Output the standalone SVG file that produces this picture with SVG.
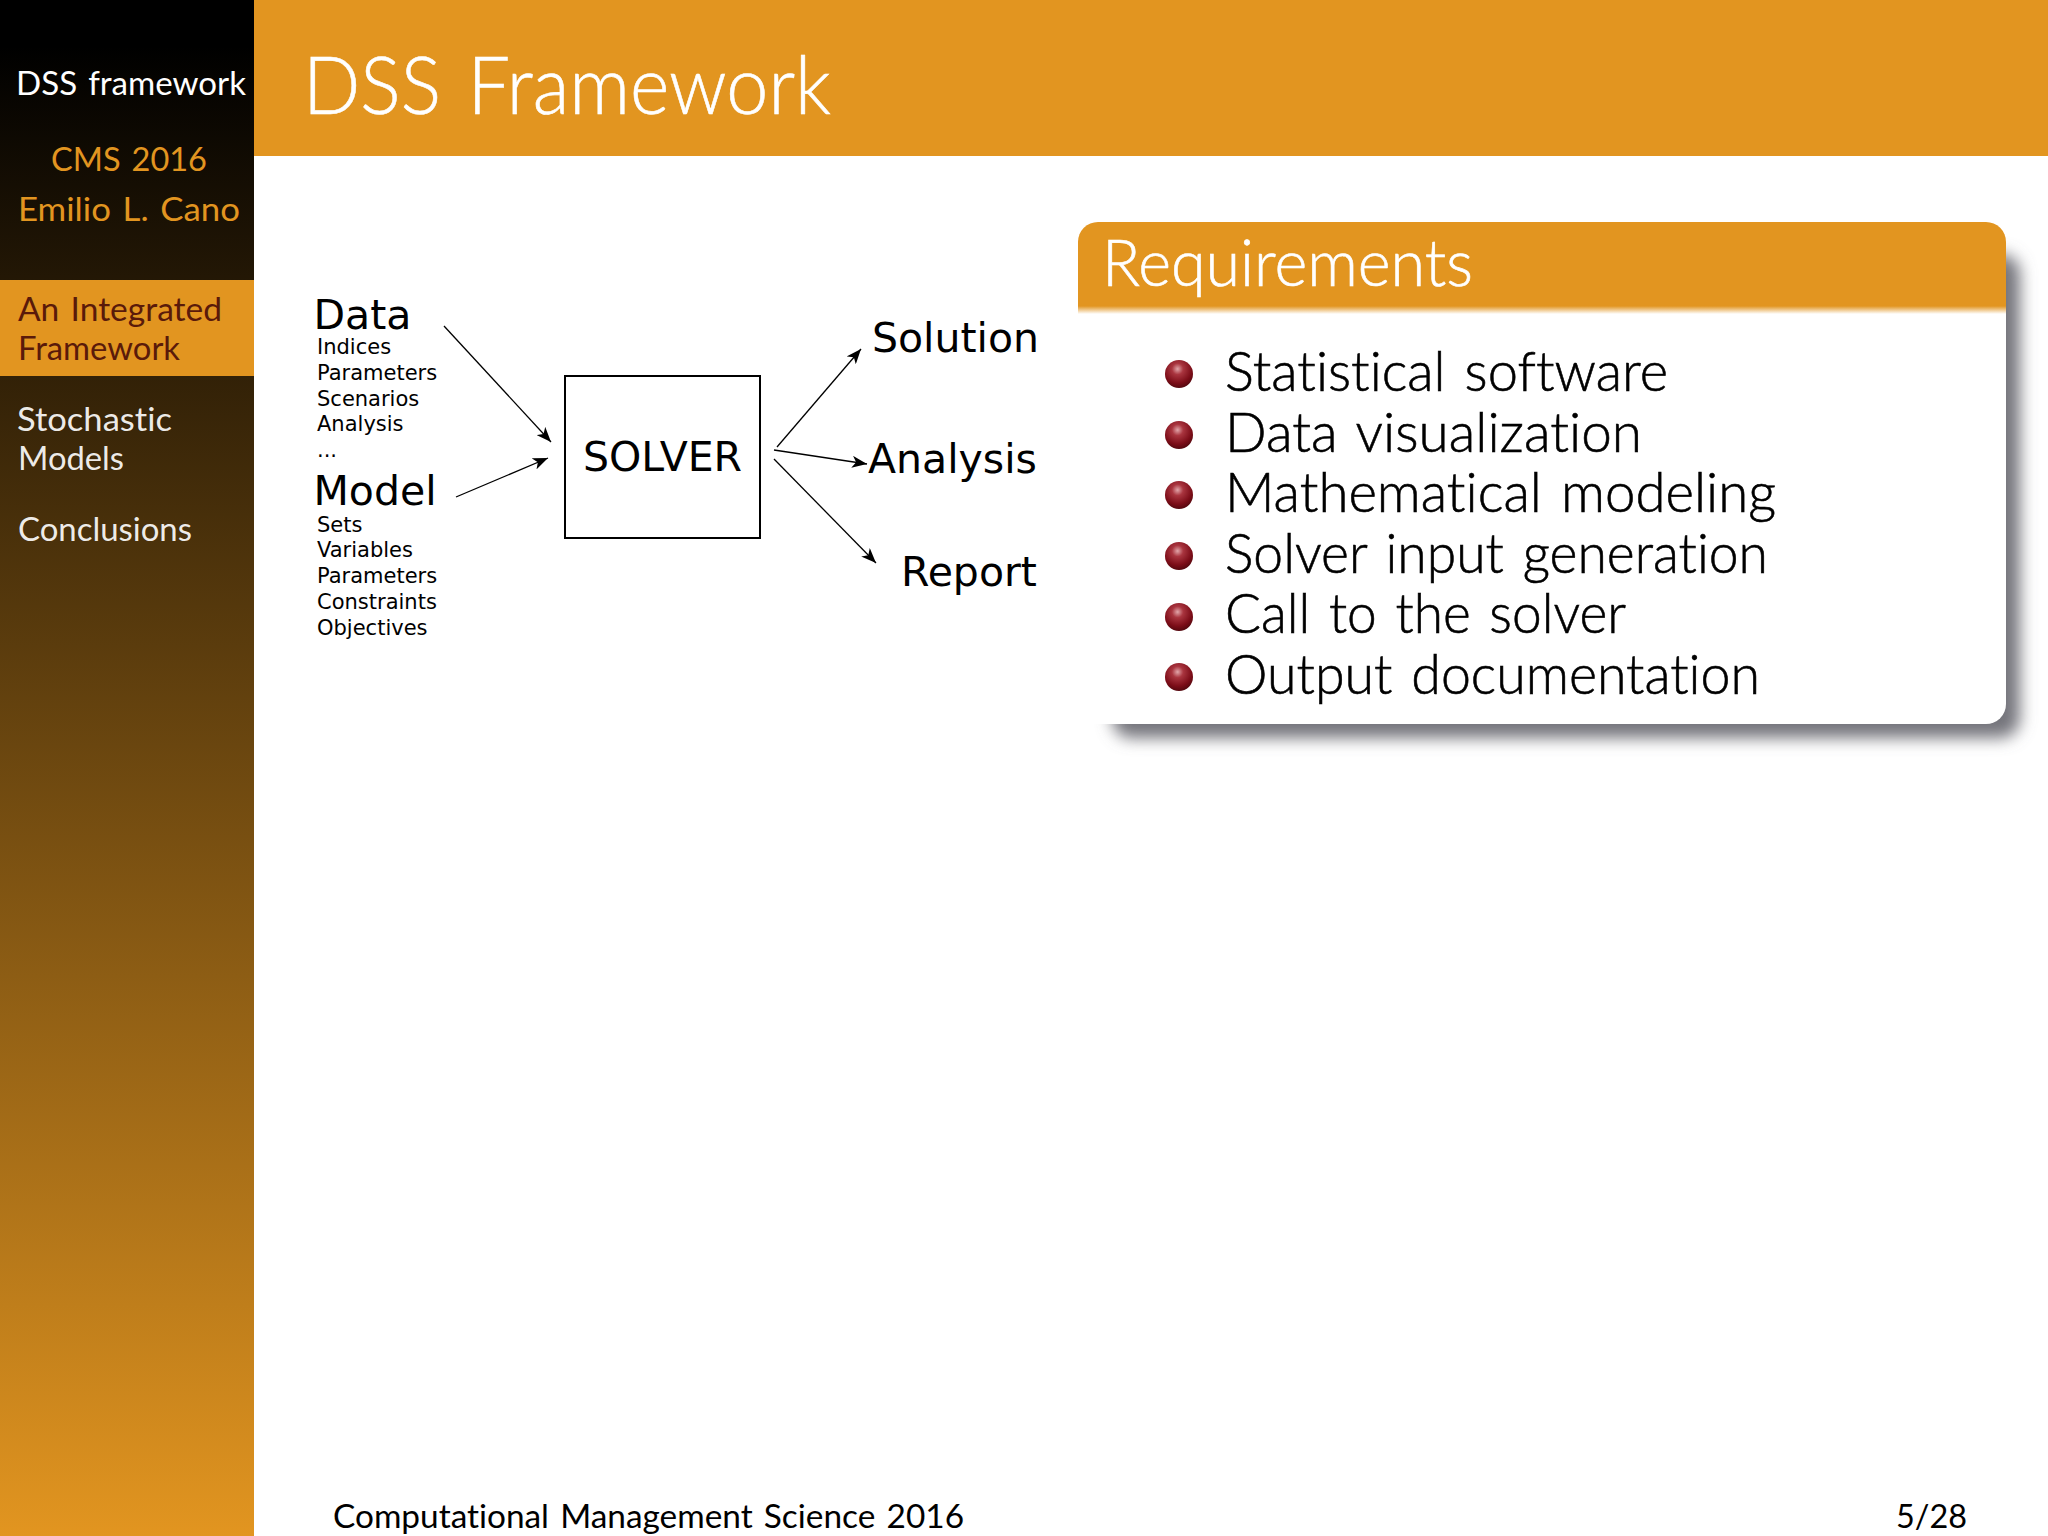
<svg xmlns="http://www.w3.org/2000/svg" width="2048" height="1536" viewBox="0 0 2048 1536">
<defs>
<style>
.cm{font-family:"Lato","Open Sans","Liberation Sans",sans-serif;font-weight:300;font-variant-ligatures:none;word-spacing:.08em}
.dv{font-family:"DejaVu Sans",sans-serif;fill:#000}
.side{font-size:33px;font-weight:400}
.small{font-size:21px}
.big{font-size:41px}
.item{font-size:56px;fill:#000;stroke:#000;stroke-width:.6}
.head{stroke:#fff;stroke-width:.6}
.foot{font-size:33px;fill:#000;font-weight:400}
.edge{fill:none;stroke:#000;stroke-width:1.3;marker-end:url(#tip)}
</style>
<linearGradient id="sideGrad" x1="0" y1="0" x2="0" y2="1">
<stop offset="0.03" stop-color="#000"/>
<stop offset="1" stop-color="#e29520"/>
</linearGradient>
<linearGradient id="fade" x1="0" y1="0" x2="0" y2="1">
<stop offset="0" stop-color="#e29520"/>
<stop offset="1" stop-color="#e29520" stop-opacity="0"/>
</linearGradient>
<radialGradient id="ball" cx="0.45" cy="0.32" r="0.72">
<stop offset="0" stop-color="#e2a6aa"/>
<stop offset="0.28" stop-color="#a9353f"/>
<stop offset="0.7" stop-color="#7c0d18"/>
<stop offset="1" stop-color="#4c060c"/>
</radialGradient>
<filter id="blur" x="-5%" y="-10%" width="110%" height="120%"><feGaussianBlur stdDeviation="8"/></filter>
<marker id="tip" viewBox="0 0 16 12" refX="15" refY="6" markerWidth="16" markerHeight="12" markerUnits="userSpaceOnUse" orient="auto">
<path d="M0 0 L15 6 L0 12 L4 6 Z" fill="#000"/>
</marker>
<g id="bullet"><circle r="14" fill="url(#ball)"/></g>
</defs>

<rect width="2048" height="1536" fill="#fff"/>

<g id="sidebar">
<rect x="0" y="0" width="254" height="1536" fill="url(#sideGrad)"/>
<rect x="0" y="280" width="254" height="96" fill="#e29520"/>
<text class="cm side" x="16" y="95" fill="#fff" textLength="230" lengthAdjust="spacingAndGlyphs">DSS framework</text>
<text class="cm side" x="51" y="171" fill="#e29520" textLength="156" lengthAdjust="spacingAndGlyphs">CMS 2016</text>
<text class="cm side" x="18" y="221" fill="#e29520" textLength="222" lengthAdjust="spacingAndGlyphs">Emilio L. Cano</text>
<text class="cm side" x="18" y="321" fill="#5a1a0a" textLength="204" lengthAdjust="spacingAndGlyphs">An Integrated</text>
<text class="cm side" x="18" y="360" fill="#5a1a0a" textLength="162" lengthAdjust="spacingAndGlyphs">Framework</text>
<text class="cm side" x="17" y="431" fill="#fff" fill-opacity=".92" textLength="155" lengthAdjust="spacingAndGlyphs">Stochastic</text>
<text class="cm side" x="18" y="470" fill="#fff" fill-opacity=".92" textLength="106" lengthAdjust="spacingAndGlyphs">Models</text>
<text class="cm side" x="18" y="541" fill="#fff" fill-opacity=".92" textLength="174" lengthAdjust="spacingAndGlyphs">Conclusions</text>
</g>

<g id="header">
<rect x="254" y="0" width="1794" height="156" fill="#e29520"/>
<text class="cm head" x="303" y="114" font-size="80" fill="#fff" textLength="528" lengthAdjust="spacingAndGlyphs">DSS Framework</text>
</g>

<g id="connectors">
<line class="edge" x1="444" y1="326" x2="551" y2="442"/>
<line class="edge" x1="456" y1="497" x2="548" y2="458"/>
<line class="edge" x1="777" y1="447" x2="861" y2="349"/>
<line class="edge" x1="774" y1="450" x2="867" y2="464"/>
<line class="edge" x1="774" y1="459" x2="876" y2="563"/>
</g>

<g id="data">
<text class="dv big" x="313.5" y="329">Data</text>
<text class="dv small" x="317" y="354">Indices</text>
<text class="dv small" x="317" y="380">Parameters</text>
<text class="dv small" x="317" y="406">Scenarios</text>
<text class="dv small" x="317" y="431">Analysis</text>
<text class="dv small" x="317" y="457">...</text>
</g>
<g id="model">
<text class="dv big" x="313.5" y="505">Model</text>
<text class="dv small" x="317" y="532">Sets</text>
<text class="dv small" x="317" y="557">Variables</text>
<text class="dv small" x="317" y="583">Parameters</text>
<text class="dv small" x="317" y="609">Constraints</text>
<text class="dv small" x="317" y="635">Objectives</text>
</g>
<g id="solver">
<rect x="565" y="376" width="195" height="162" fill="none" stroke="#000" stroke-width="2"/>
<text class="dv big" x="583" y="471">SOLVER</text>
</g>
<g id="solution"><text class="dv big" x="872" y="352">Solution</text></g>
<g id="analysis"><text class="dv big" x="868" y="473">Analysis</text></g>
<g id="report"><text class="dv big" x="901" y="586">Report</text></g>

<g id="requirements">
<rect x="1112" y="254" width="908" height="484" rx="20" fill="#74747c" filter="url(#blur)"/>
<rect x="1078" y="222" width="928" height="502" rx="20" fill="#fff"/>
<path d="M1078 306 V242 a20 20 0 0 1 20 -20 H1986 a20 20 0 0 1 20 20 V306 Z" fill="#e29520"/>
<rect x="1078" y="306" width="928" height="8" fill="url(#fade)"/>
<text class="cm head" x="1102" y="286" font-size="65" fill="#fff" textLength="371" lengthAdjust="spacingAndGlyphs">Requirements</text>
<use href="#bullet" x="1179" y="374"/>
<use href="#bullet" x="1179" y="435"/>
<use href="#bullet" x="1179" y="495"/>
<use href="#bullet" x="1179" y="556"/>
<use href="#bullet" x="1179" y="617"/>
<use href="#bullet" x="1179" y="677"/>
<text class="cm item" x="1225" y="391" textLength="443" lengthAdjust="spacingAndGlyphs">Statistical software</text>
<text class="cm item" x="1225" y="452" textLength="417" lengthAdjust="spacingAndGlyphs">Data visualization</text>
<text class="cm item" x="1225" y="512" textLength="551" lengthAdjust="spacingAndGlyphs">Mathematical modeling</text>
<text class="cm item" x="1225" y="573" textLength="543" lengthAdjust="spacingAndGlyphs">Solver input generation</text>
<text class="cm item" x="1225" y="633" textLength="401" lengthAdjust="spacingAndGlyphs">Call to the solver</text>
<text class="cm item" x="1225" y="694" textLength="535" lengthAdjust="spacingAndGlyphs">Output documentation</text>
</g>

<g id="footer">
<text class="cm foot" x="333" y="1528" textLength="631" lengthAdjust="spacingAndGlyphs">Computational Management Science 2016</text>
<text class="cm foot" x="1896" y="1528" textLength="71" lengthAdjust="spacingAndGlyphs">5/28</text>
</g>
</svg>
